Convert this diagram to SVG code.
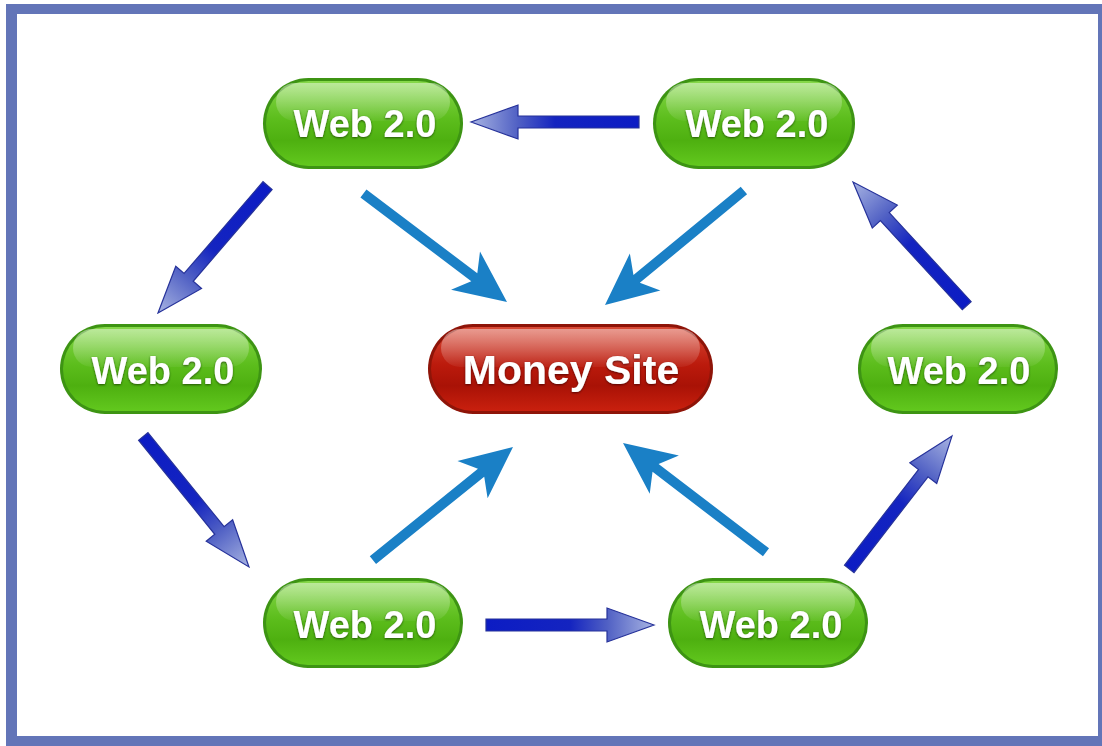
<svg xmlns="http://www.w3.org/2000/svg" width="1102" height="746" viewBox="0 0 1102 746">
  <defs>
    <style>
      .lbl { font-family: "Liberation Sans", Arial, sans-serif; font-weight: bold; fill: #ffffff; text-anchor: middle; }
      .web { font-size: 38px; }
      .money { font-size: 41px; }
      .gborder { fill: #3d9413; }
      .gbody { fill: url(#greenGrad); }
      .rborder { fill: #8e1408; }
      .rbody { fill: url(#redGrad); }
      .gloss { fill: url(#glossGrad); }
      .darr { fill: url(#darkGrad); stroke: #26329a; stroke-width: 1.2; stroke-linejoin: miter; }
      .larr { fill: #1a80c6; }
    </style>
    <linearGradient id="greenGrad" x1="0" y1="0" x2="0" y2="1">
      <stop offset="0" stop-color="#86d84a"/>
      <stop offset="0.45" stop-color="#5cbd1c"/>
      <stop offset="0.7" stop-color="#4eb010"/>
      <stop offset="1" stop-color="#62c81e"/>
    </linearGradient>
    <linearGradient id="redGrad" x1="0" y1="0" x2="0" y2="1">
      <stop offset="0" stop-color="#d84a36"/>
      <stop offset="0.45" stop-color="#bb1a0c"/>
      <stop offset="0.7" stop-color="#a91206"/>
      <stop offset="1" stop-color="#c9200e"/>
    </linearGradient>
    <linearGradient id="glossGrad" x1="0" y1="0" x2="0" y2="1">
      <stop offset="0" stop-color="#ffffff" stop-opacity="0.45"/>
      <stop offset="1" stop-color="#ffffff" stop-opacity="0.05"/>
    </linearGradient>
    <linearGradient id="darkGrad" x1="0" y1="0" x2="1" y2="0">
      <stop offset="0" stop-color="#0c1cc4"/>
      <stop offset="0.5" stop-color="#1424c0"/>
      <stop offset="0.72" stop-color="#5060c4"/>
      <stop offset="1" stop-color="#a8b4e2"/>
    </linearGradient>
    <filter id="tshadow" x="-10%" y="-20%" width="120%" height="140%">
      <feDropShadow dx="0" dy="1" stdDeviation="1.2" flood-color="#1a3a00" flood-opacity="0.8"/>
    </filter>
    <filter id="tshadowR" x="-10%" y="-20%" width="120%" height="140%">
      <feDropShadow dx="0" dy="1" stdDeviation="1.2" flood-color="#400000" flood-opacity="0.8"/>
    </filter>
    <!-- dark blue arrow, tip at origin pointing +x, length 168 -->
    <path id="darkArrow" d="M0,0 L-47,-17 L-47,-6 L-168,-6 L-168,6 L-47,6 L-47,17 Z"/>
    <!-- light blue arrow, tip at origin pointing +x, length 180 -->
    <path id="lightArrow" d="M0,0 L-52,-24 L-41,-5 L-180,-5 L-180,5 L-41,5 L-52,24 Z"/>
  </defs>

  <!-- frame -->
  <rect x="0" y="0" width="1102" height="746" fill="#ffffff"/>
  <path fill="#6375b8" fill-rule="evenodd" d="M6,4 H1102 V746 H6 Z M17,14 V736 H1098 V14 Z"/>

  <g id="connectors">
    <!-- web 2.0 ring (dark blue) -->
    <use href="#darkArrow" class="darr" transform="translate(471,122) rotate(180)"/>
    <use href="#darkArrow" class="darr" transform="translate(158,313) rotate(130.7)"/>
    <use href="#darkArrow" class="darr" transform="translate(249,567) rotate(51)"/>
    <use href="#darkArrow" class="darr" transform="translate(654,625) rotate(0)"/>
    <use href="#darkArrow" class="darr" transform="translate(952,436) rotate(-52.3)"/>
    <use href="#darkArrow" class="darr" transform="translate(853,182) rotate(-132.6)"/>
    <!-- to money site (light blue) -->
    <use href="#lightArrow" class="larr" transform="translate(507,302) rotate(37.1)"/>
    <use href="#lightArrow" class="larr" transform="translate(605,305) rotate(140.5)"/>
    <use href="#lightArrow" class="larr" transform="translate(513,447) rotate(-38.9)"/>
    <use href="#lightArrow" class="larr" transform="translate(623,443) rotate(-142.6)"/>
  </g>

  <g id="web-top-left">
    <rect class="gborder" x="263" y="78" width="200" height="91" rx="45.5"/>
    <rect class="gbody" x="266" y="81" width="194" height="85" rx="42.5"/>
    <rect class="gloss" x="276" y="83" width="174" height="38" rx="19"/>
    <text class="lbl web" x="365" y="137" filter="url(#tshadow)">Web 2.0</text>
  </g>
  <g id="web-top-right">
    <rect class="gborder" x="653" y="78" width="202" height="91" rx="45.5"/>
    <rect class="gbody" x="656" y="81" width="196" height="85" rx="42.5"/>
    <rect class="gloss" x="666" y="83" width="176" height="38" rx="19"/>
    <text class="lbl web" x="757" y="137" filter="url(#tshadow)">Web 2.0</text>
  </g>
  <g id="web-mid-left">
    <rect class="gborder" x="60" y="324" width="202" height="90" rx="45"/>
    <rect class="gbody" x="63" y="327" width="196" height="84" rx="42"/>
    <rect class="gloss" x="73" y="329" width="176" height="38" rx="19"/>
    <text class="lbl web" x="163" y="384" filter="url(#tshadow)">Web 2.0</text>
  </g>
  <g id="web-mid-right">
    <rect class="gborder" x="858" y="324" width="200" height="90" rx="45"/>
    <rect class="gbody" x="861" y="327" width="194" height="84" rx="42"/>
    <rect class="gloss" x="871" y="329" width="174" height="38" rx="19"/>
    <text class="lbl web" x="959" y="384" filter="url(#tshadow)">Web 2.0</text>
  </g>
  <g id="web-bottom-left">
    <rect class="gborder" x="263" y="578" width="200" height="90" rx="45"/>
    <rect class="gbody" x="266" y="581" width="194" height="84" rx="42"/>
    <rect class="gloss" x="276" y="583" width="174" height="38" rx="19"/>
    <text class="lbl web" x="365" y="638" filter="url(#tshadow)">Web 2.0</text>
  </g>
  <g id="web-bottom-right">
    <rect class="gborder" x="668" y="578" width="200" height="90" rx="45"/>
    <rect class="gbody" x="671" y="581" width="194" height="84" rx="42"/>
    <rect class="gloss" x="681" y="583" width="174" height="38" rx="19"/>
    <text class="lbl web" x="771" y="638" filter="url(#tshadow)">Web 2.0</text>
  </g>
  <g id="money-site">
    <rect class="rborder" x="428" y="324" width="285" height="90" rx="45"/>
    <rect class="rbody" x="431" y="327" width="279" height="84" rx="42"/>
    <rect class="gloss" x="441" y="329" width="259" height="38" rx="19"/>
    <text class="lbl money" x="571" y="384" filter="url(#tshadowR)">Money Site</text>
  </g>
</svg>
